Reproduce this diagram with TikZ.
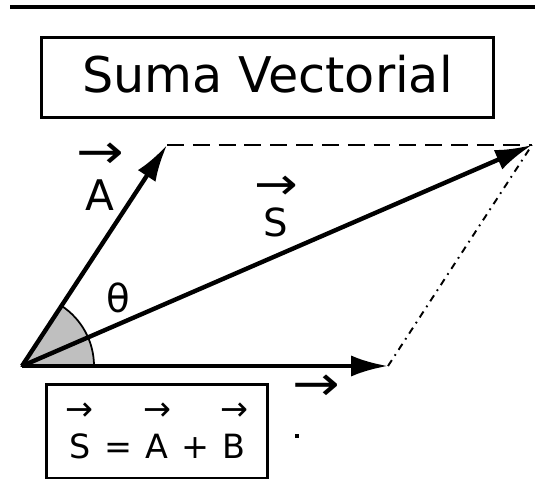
\documentclass[tikz,border=0pt]{standalone}
\usepackage{fontspec}
\usepackage{graphicx}
\setmainfont{DejaVu Sans}
\usetikzlibrary{arrows.meta,positioning}
\newcommand{\bigarrow}{\scalebox{1.35}[1.15]{→}}
\newcommand{\arrowover}[2][-1pt]{\begin{tabular}[b]{@{}c@{}}\bigarrow\\[#1]#2\end{tabular}}
\newcommand{\eqvec}[1]{\begin{tabular}[b]{@{}c@{}}→\\[-2pt]#1\end{tabular}}

\begin{document}
\begin{tikzpicture}[
  x=0.02cm, y=0.02cm,
  vect/.style={line width=2.5pt, -{Latex[length=21pt, width=12pt]}},
  frame/.style={draw, line width=1.7pt, inner sep=0pt},
  lbl/.style={font=\fontsize{24}{24.5}\selectfont, inner sep=0pt, align=center}
]
\useasboundingbox (0,0) rectangle (543,491);
\draw[line width=2.3pt] (10,484) -- (535,484);
\node[frame, minimum width=9.06cm, minimum height=1.62cm,
  font=\fontsize{28}{30}\selectfont] (title) at (267.5,413.5)
  {\raisebox{0.14cm}{Suma Vectorial}};

\coordinate (O) at (22,125);
\coordinate (A) at (167,346);
\coordinate (S) at (532,346);
\coordinate (B) at (388,125);

% angle between A and B
\filldraw[fill=lightgray, line width=1pt] (O) -- ++(0:72) arc (0:56.6:72) -- cycle;

% parallelogram sides
\draw[line width=1.7pt, dash pattern=on 9.6pt off 5.1pt] (A) -- (S);
\draw[line width=1.1pt, dash pattern=on 4pt off 3pt on 1pt off 3pt] (B) -- (S);

\draw[vect] (O) -- (A);
\draw[vect] (O) -- (S);
\draw[vect] (O) -- (B);

\node[lbl] (lblA) at (100,310) {\arrowover{A}};
\node[lbl, font=\fontsize{22}{22.5}\selectfont] (lblS) at (276,281) {\arrowover[-2pt]{S}};
\node[lbl, font=\fontsize{22}{22.5}\selectfont] (theta) at (118,193) {θ};
\node[lbl] (lblB) at (316,103) {\bigarrow};
\node[fill, inner sep=0pt, minimum size=2.2pt] (dotB) at (297,55) {};

\node[frame, minimum width=4.44cm, minimum height=1.88cm,
  font=\fontsize{19}{24}\selectfont] (eq) at (157,60)
  {\eqvec{S} = \eqvec{A} + \eqvec{B}};
\end{tikzpicture}
\end{document}
